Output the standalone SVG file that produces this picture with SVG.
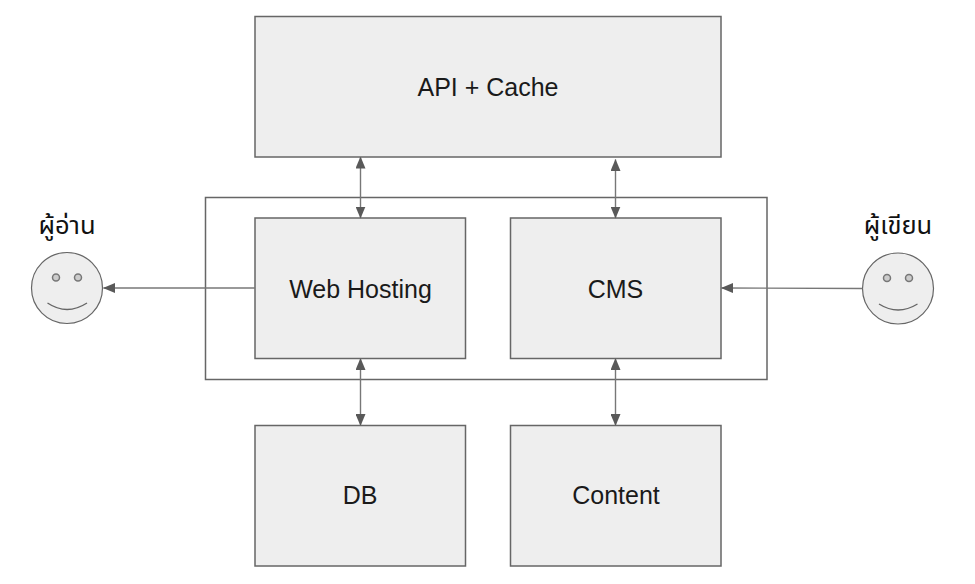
<svg xmlns="http://www.w3.org/2000/svg" width="975" height="584" viewBox="0 0 975 584">
<style>
.box{fill:#eeeeee;stroke:#666666;stroke-width:1.5}
.frame{fill:none;stroke:#666666;stroke-width:1.5}
.lbl{font-family:"Liberation Sans",Arial,sans-serif;font-size:25px;fill:#1a1a1a;text-anchor:middle}
.thai{font-family:"Noto Sans","Noto Sans Thai","DejaVu Sans",sans-serif;font-size:25.500px;fill:#111111;text-anchor:middle}
.face{fill:#eeeeee;stroke:#666666;stroke-width:1.2}
.eye{fill:#cccccc;stroke:#777777;stroke-width:1.5}
.smile{fill:none;stroke:#666666;stroke-width:1.3}
.edge{fill:none;stroke:#777777;stroke-width:1.4}
</style>
<defs>
<marker id="tip" viewBox="0 0 12 10" refX="11.5" refY="5" markerWidth="12" markerHeight="10" markerUnits="userSpaceOnUse" orient="auto-start-reverse">
<path d="M0 0L12 5L0 10Z" fill="#595959"/>
</marker>
</defs>
<rect width="975" height="584" fill="#ffffff"/>
<rect id="frame" class="frame" x="205.500" y="197.500" width="561.500" height="182"/>
<g id="api-cache"><rect class="box" x="255" y="16.500" width="466" height="140.500"/><text class="lbl" x="488" y="96">API + Cache</text></g>
<g id="web-hosting"><rect class="box" x="255" y="218" width="210.500" height="140.500"/><text class="lbl" x="360.500" y="297.500">Web Hosting</text></g>
<g id="cms"><rect class="box" x="510.500" y="218" width="210.500" height="140.500"/><text class="lbl" x="615.500" y="297.500">CMS</text></g>
<g id="db"><rect class="box" x="255" y="425.500" width="210.500" height="140.500"/><text class="lbl" x="360" y="504">DB</text></g>
<g id="content"><rect class="box" x="510.500" y="425.500" width="210.500" height="140.500"/><text class="lbl" x="616" y="504">Content</text></g>
<g id="reader">
<text class="thai" x="67" y="234">ผู้อ่าน</text>
<circle class="face" cx="67" cy="288" r="35.500"/>
<circle class="eye" cx="56" cy="277.500" r="3.500"/><circle class="eye" cx="78" cy="277.500" r="3.500"/>
<path class="smile" d="M47.500 303Q67 316 87 303"/>
</g>
<g id="writer">
<text class="thai" x="898" y="234">ผู้เขียน</text>
<circle class="face" cx="898" cy="288.500" r="35.500"/>
<circle class="eye" cx="887" cy="278" r="3.500"/><circle class="eye" cx="909" cy="278" r="3.500"/>
<path class="smile" d="M879 304Q898 316 917.500 304"/>
</g>
<g id="connectors">
<path class="edge" d="M360.500 157V218" marker-start="url(#tip)" marker-end="url(#tip)"/>
<path class="edge" d="M615.500 159.500V218" marker-start="url(#tip)" marker-end="url(#tip)"/>
<path class="edge" d="M360.500 358.500V425.500" marker-start="url(#tip)" marker-end="url(#tip)"/>
<path class="edge" d="M615.500 358.500V425.500" marker-start="url(#tip)" marker-end="url(#tip)"/>
<path class="edge" d="M255 288H103.500" marker-end="url(#tip)"/>
<path class="edge" d="M862.500 288.500L721.500 288" marker-end="url(#tip)"/>
</g>
</svg>
